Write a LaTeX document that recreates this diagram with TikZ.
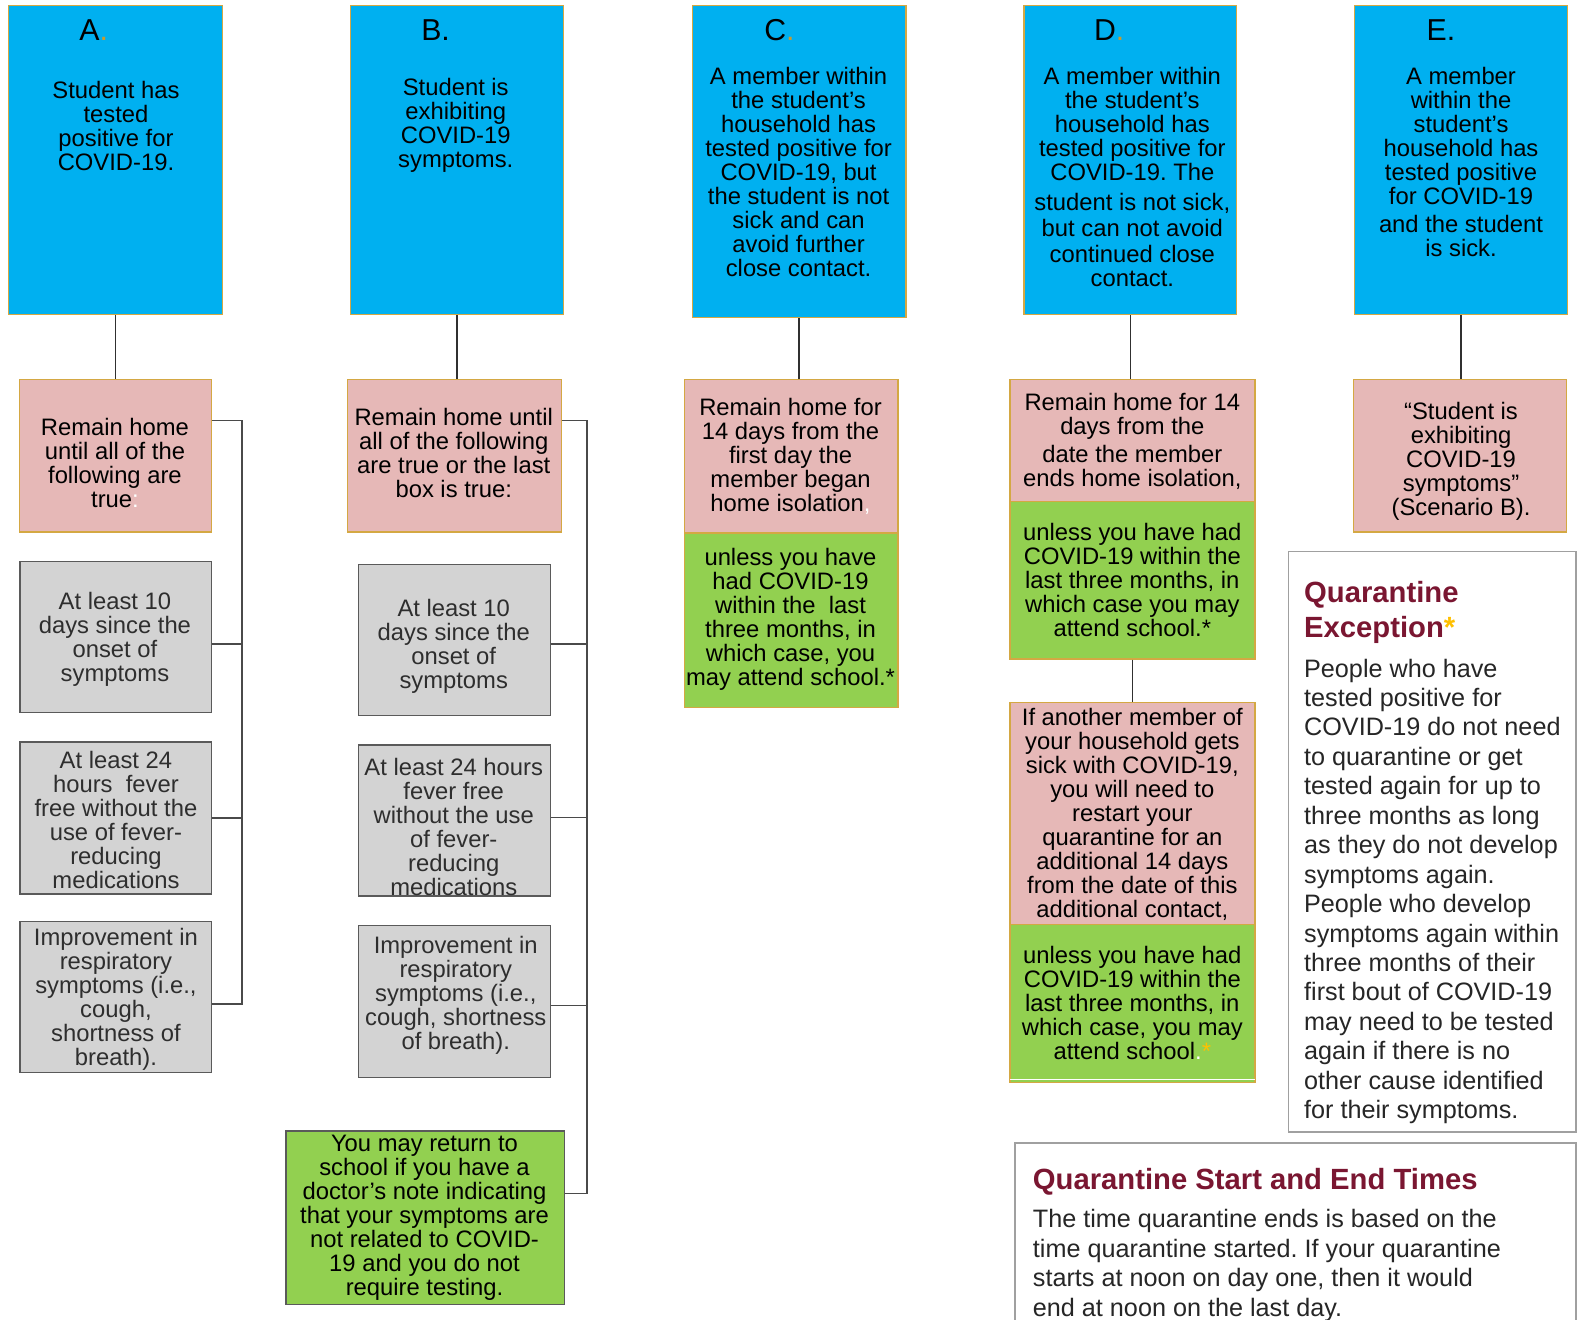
\documentclass[tikz,border=0pt]{standalone}
\usepackage{fontspec}
\setmainfont{Liberation Sans}
\usetikzlibrary{calc}
\frenchspacing
\definecolor{cblue}{HTML}{00B0F0}
\definecolor{cpink}{HTML}{E6B8B7}
\definecolor{cgreen}{HTML}{92D050}
\definecolor{cgray}{HTML}{D3D3D3}
\definecolor{cgold}{HTML}{D4A843}
\definecolor{cdot}{HTML}{C99A2E}
\definecolor{cstar}{HTML}{FFC000}
\definecolor{cmaroon}{HTML}{7A1631}
\definecolor{cline}{HTML}{303030}
\definecolor{cbus}{HTML}{4A4A4A}
\definecolor{cgtext}{HTML}{2E2E2E}
\definecolor{cgborder}{HTML}{5A5A5A}
\definecolor{cframe}{HTML}{A0A0A0}
\definecolor{cbody}{HTML}{262626}
\newcommand{\bx}[6]{%
  \pgfmathsetmacro{\bxw}{(#5-#3)*0.5}%
  \pgfmathsetmacro{\bxh}{(#6-#4)*0.5}%
  \node[#2, anchor=north west, minimum width=\bxw pt, minimum height=\bxh pt, inner sep=0pt] (#1) at (#3,#4) {};}
\begin{document}
\begin{tikzpicture}[x=0.5pt,y=-0.5pt,
  bluebox/.style={fill=cblue, draw=cgold, line width=0.6pt},
  pinkbox/.style={fill=cpink, draw=cgold, line width=0.6pt},
  greenbox/.style={fill=cgreen, draw=cgold, line width=0.6pt},
  greenboxd/.style={fill=cgreen, draw=cgborder, line width=0.7pt},
  graybox/.style={fill=cgray, draw=cgborder, line width=0.7pt},
  framebox/.style={fill=white, draw=cframe, line width=0.8pt},
  txt/.style={font=\fontsize{11.8}{11.9}\selectfont\frenchspacing, align=center, inner sep=0pt, text=black},
  gtxt/.style={txt, text=cgtext},
  hdr/.style={font=\fontsize{15}{15}\selectfont, inner sep=0pt, text=black},
  conn/.style={draw=cline, line width=0.9pt},
  bus/.style={draw=cbus, line width=0.75pt},
  ttl/.style={font=\fontsize{14.5}{17.5}\selectfont\bfseries\frenchspacing, text=cmaroon, align=left, inner sep=0pt},
  body/.style={font=\fontsize{12.5}{14.6}\selectfont\frenchspacing, text=cbody, align=left, inner sep=0pt}]
\useasboundingbox (0,0) rectangle (1565,1309);

% ---------- Column A ----------
\bx{bA}{bluebox}{8}{5}{220}{311}
\node[hdr] (hA) at (93,30) {A\textcolor{cdot}{.}};
\node[txt] (tA) at (115,125) {Student has\\tested\\positive for\\COVID-19.};
\bx{pA}{pinkbox}{19}{376}{209}{527}
\node[txt] (tpA) at (114,459) {Remain home\\until all of the\\following are\\true\textcolor{white}{:}};
\bx{gA1}{graybox}{19}{556}{209}{706}
\node[gtxt] (tgA1) at (114,634) {At least 10\\days since the\\onset of\\symptoms};
\bx{gA2}{graybox}{19}{735}{209}{886}
\node[gtxt] (tgA2) at (115,813) {At least 24\\hours\ \ fever\\free without the\\use of fever-\\reducing\\medications};
\bx{gA3}{graybox}{19}{913}{209}{1063}
\node[gtxt] (tgA3) at (115,991) {Improvement in\\respiratory\\symptoms (i.e.,\\cough,\\shortness of\\breath).};
\draw[conn] (bA.south) -- (pA.north);
\coordinate (busA1) at (240,417);
\coordinate (busA2) at (240,995);
\draw[bus] (pA.east |- busA1) -- (busA1) -- (busA2);
\draw[bus] ([yshift=-3.5pt]gA1.east) -| (busA1);
\draw[bus] ([yshift=0pt]gA2.east) -| (busA1);
\draw[bus] ([yshift=-3.5pt]gA3.east) -| (busA1);

% ---------- Column B ----------
\bx{bB}{bluebox}{347}{5}{558}{311}
\node[hdr] (hB) at (432,30) {B.};
\node[txt] (tB) at (452,124) {Student is\\exhibiting\\COVID-19\\symptoms.};
\bx{pB}{pinkbox}{344}{376}{556}{527}
\node[txt] (tpB) at (450,449) {Remain home until\\all of the following\\are true or the last\\box is true:};
\bx{gB1}{graybox}{355}{559}{545}{709}
\node[gtxt] (tgB1) at (450,641) {At least 10\\days since the\\onset of\\symptoms};
\bx{gB2}{graybox}{355}{738}{545}{888}
\node[gtxt] (tgB2) at (450,820) {At least 24 hours\\fever free\\without the use\\of fever-\\reducing\\medications};
\bx{gB3}{graybox}{355}{917}{545}{1068}
\node[gtxt] (tgB3) at (452,987) {Improvement in\\respiratory\\symptoms (i.e.,\\cough, shortness\\of breath).};
\bx{grB}{greenboxd}{283}{1121}{559}{1293}
\node[txt] (tgrB) at (421,1208) {You may return to\\school if you have a\\doctor’s note indicating\\that your symptoms are\\not related to COVID-\\19 and you do not\\require testing.};
\draw[conn] (bB.south) -- (bB.south |- pB.north);
\coordinate (busB1) at (582,417);
\coordinate (busB2) at (582,1183);
\draw[bus] (pB.east |- busB1) -- (busB1) -- (busB2);
\draw[bus] ([yshift=-2pt]gB1.east) -| (busB1);
\draw[bus] ([yshift=1.5pt]gB2.east) -| (busB1);
\draw[bus] ([yshift=-2pt]gB3.east) -| (busB1);
\draw[bus] ([yshift=12pt]grB.east) -| (busB1);

% ---------- Column C ----------
\bx{bC}{bluebox}{686}{5}{898}{314}
\node[hdr] (hC) at (773,30) {C\textcolor{cdot}{.}};
\node[txt] (tC) at (792,170.5) {A member within\\the student’s\\household has\\tested positive for\\COVID-19, but\\the student is not\\sick and can\\avoid further\\close contact.};
\bx{pC}{pinkbox}{678}{376}{890}{528}
\node[txt] (tpC) at (784,453) {Remain home for\\14 days from the\\first day the\\member began\\home isolation\textcolor{white}{,}};
\bx{grC}{greenbox}{678}{528}{890}{701}
\node[txt] (tgrC) at (784,614) {unless you have\\had COVID-19\\within the\ \ last\\three months, in\\which case, you\\may attend school.*};
\draw[conn] (bC.south) -- (bC.south |- pC.north);

% ---------- Column D ----------
\bx{bD}{bluebox}{1015}{5}{1226}{311}
\node[hdr] (hD) at (1100,30) {D\textcolor{cdot}{.}};
\node[txt] (tD) at (1123,176) {A member within\\the student’s\\household has\\tested positive for\\COVID-19. The\\[3pt]student is not sick,\\[1pt]but can not avoid\\[1pt]continued close\\contact.};
\bx{pD}{pinkbox}{1001}{376}{1244}{497}
\node[txt] (tpD) at (1123,437.5) {Remain home for 14\\days from the\\[2pt]date the member\\ends home isolation,};
\bx{grD}{greenbox}{1001}{497}{1244}{653}
\node[txt] (tgrD) at (1123,575) {unless you have had\\COVID-19 within the\\last three months, in\\which case you may\\attend school.*};
\bx{pD2}{pinkbox}{1001}{696}{1244}{916}
\node[txt] (tpD2) at (1123,807.5) {If another member of\\your household gets\\sick with COVID-19,\\you will need to\\restart your\\quarantine for an\\additional 14 days\\from the date of this\\additional contact,};
\bx{grD2}{greenbox}{1001}{916}{1244}{1073}
\draw[white, line width=0.8pt] ([yshift=1.8pt,xshift=0.5pt]grD2.south west) -- ([yshift=1.8pt,xshift=-0.5pt]grD2.south east);
\node[txt] (tgrD2) at (1123,994.5) {unless you have had\\COVID-19 within the\\last three months, in\\which case, you may\\attend school\textcolor{white}{.}\textcolor{cstar}{*}};
\draw[conn] (bD.south) -- (bD.south |- pD.north);
\draw[conn] (grD.south) -- (pD2.north);

% ---------- Column E ----------
\bx{bE}{bluebox}{1343}{5}{1554}{311}
\node[hdr] (hE) at (1429,30) {E.};
\node[txt] (tE) at (1449,161) {A member\\within the\\student’s\\household has\\tested positive\\for COVID-19\\[2pt]and the student\\is sick.};
\bx{pE}{pinkbox}{1342}{376}{1553}{527}
\node[txt] (tpE) at (1449,458) {“Student is\\exhibiting\\COVID-19\\symptoms”\\(Scenario B).};
\draw[conn] (bE.south) -- (bE.south |- pE.north);

% ---------- Quarantine Exception ----------
\bx{qE}{framebox}{1277}{546}{1562}{1122}
\node[ttl, anchor=west] (qEt) at (1293,607.5) {Quarantine\\Exception\textcolor{cstar}{*}};
\node[body, anchor=west] (qEb) at (1293,884) {People who have\\tested positive for\\COVID-19 do not need\\to quarantine or get\\tested again for up to\\three months as long\\as they do not develop\\symptoms again.\\People who develop\\symptoms again within\\three months of their\\first bout of COVID-19\\may need to be tested\\again if there is no\\other cause identified\\for their symptoms.};

% ---------- Quarantine Start and End Times ----------
\bx{qS}{framebox}{1006}{1133}{1562}{1340}
\node[ttl, anchor=west] (qSt) at (1024,1172) {Quarantine Start and End Times};
\node[body, anchor=west, font=\fontsize{12.5}{14.75}\selectfont\frenchspacing] (qSb) at (1024,1255) {The time quarantine ends is based on the\\time quarantine started. If your quarantine\\starts at noon on day one, then it would\\end at noon on the last day.};
\end{tikzpicture}
\end{document}
